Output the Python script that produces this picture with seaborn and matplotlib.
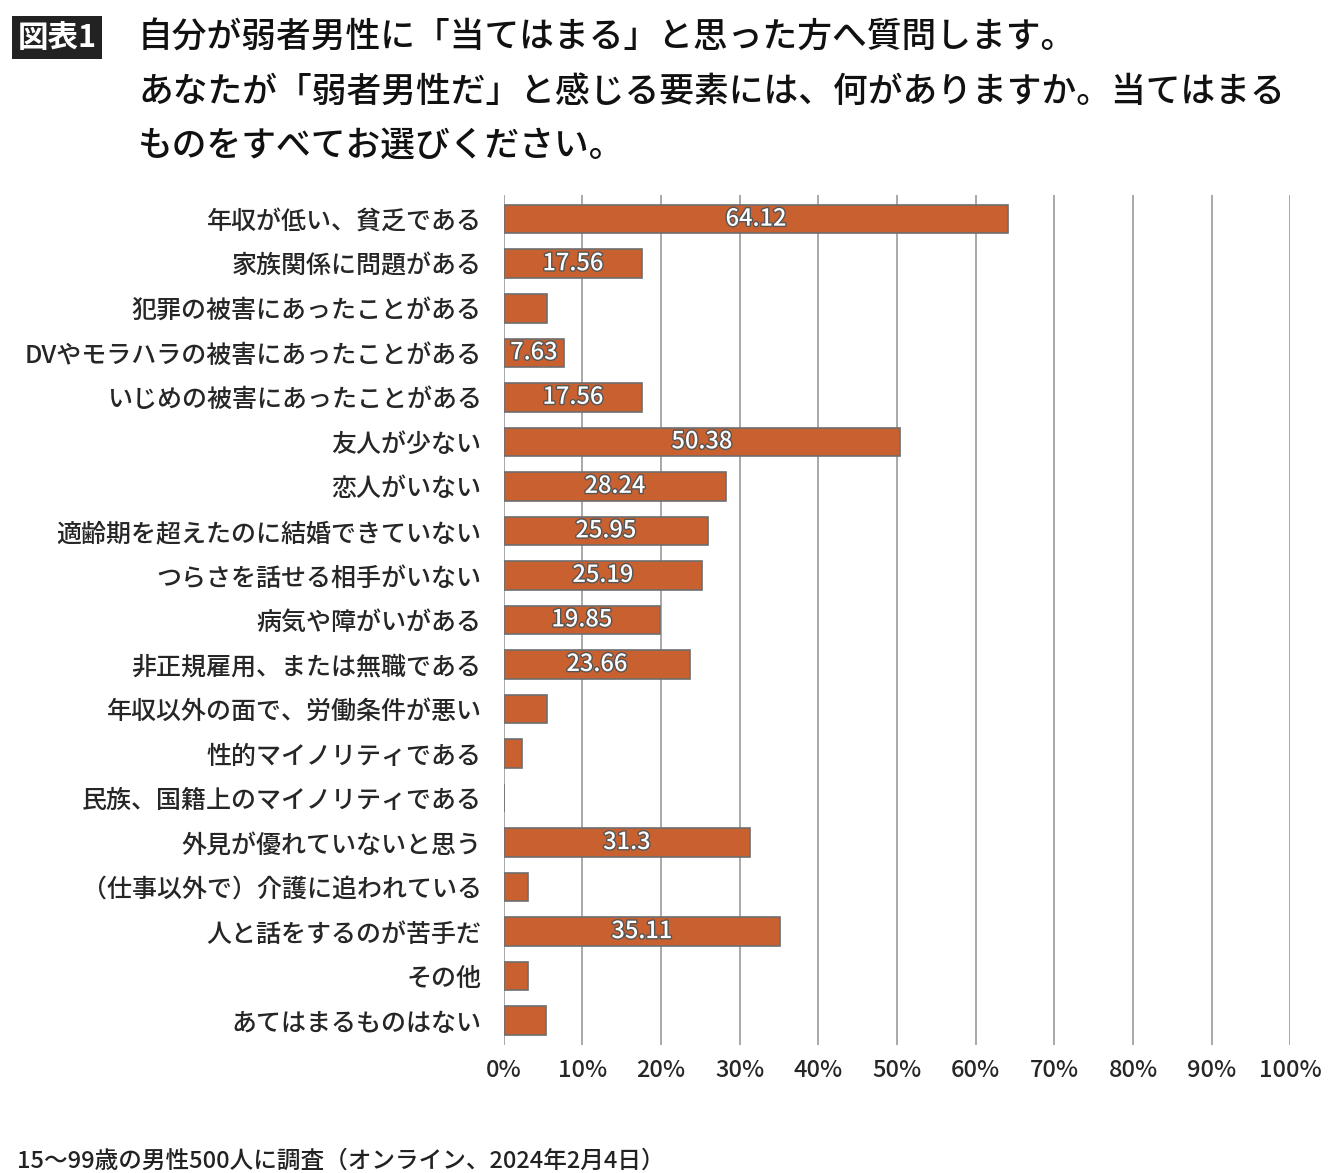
import matplotlib
matplotlib.use("Agg")
import matplotlib.pyplot as plt
import matplotlib.patheffects as pe
import seaborn as sns
import pandas as pd

categories = ["年収が低い、貧乏である", "家族関係に問題がある", "犯罪の被害にあったことがある",
              "DVやモラハラの被害にあったことがある", "いじめの被害にあったことがある", "友人が少ない",
              "恋人がいない", "適齢期を超えたのに結婚できていない", "つらさを話せる相手がいない",
              "病気や障がいがある", "非正規雇用、または無職である", "年収以外の面で、労働条件が悪い",
              "性的マイノリティである", "民族、国籍上のマイノリティである", "外見が優れていないと思う",
              "（仕事以外で）介護に追われている", "人と話をするのが苦手だ", "その他", "あてはまるものはない"]
values = [64.12, 17.56, 5.53, 7.63, 17.56, 50.38, 28.24, 25.95, 25.19, 19.85, 23.66,
          5.53, 2.29, 0.0, 31.3, 3.05, 35.11, 3.05, 5.34]
labels = ["64.12", "17.56", "", "7.63", "17.56", "50.38", "28.24", "25.95", "25.19", "19.85",
          "23.66", "", "", "", "31.3", "", "35.11", "", ""]
ticks = [0, 10, 20, 30, 40, 50, 60, 70, 80, 90, 100]

sns.set_theme(style="white")
plt.rcParams['font.family'] = ['Noto Sans CJK JP', 'DejaVu Sans']

df = pd.DataFrame({"cat": categories, "val": values})
fig = plt.figure(figsize=(13.4, 11.73), dpi=100)
ax = fig.add_axes([0.376, 0.109, 0.587, 0.725])
for t in ticks:
    ax.axvline(t, color="#999999", lw=1.2, zorder=0)
sns.barplot(data=df, x="val", y="cat", ax=ax, color="#C8602F", saturation=1,
            edgecolor="#6e6e6e", linewidth=1.2, width=0.64, zorder=2)
for i, (v, l) in enumerate(zip(values, labels)):
    if l:
        ax.text(v / 2, i, l, ha="center", va="center", color="white", fontsize=17,
                weight="medium", zorder=3,
                path_effects=[pe.withStroke(linewidth=2, foreground="#555555")])
ax.set_xlim(0, 100)
ax.set_ylim(len(categories) - 0.5 + 0.05, -0.5 - 0.05)
ax.set_xticks(ticks)
ax.set_xticklabels([f"{t}%" for t in ticks], fontsize=17, weight="medium")
for lab in ax.get_yticklabels():
    lab.set_fontsize(18)
    lab.set_fontweight("medium")
ax.tick_params(axis="y", pad=16, length=0)
ax.tick_params(axis="x", pad=10, length=0)
ax.set_xlabel("")
ax.set_ylabel("")
for s in ax.spines.values():
    s.set_visible(False)

fig.text(0.013, 0.968, "図表1", fontsize=22, color="white", weight="bold", va="center",
         bbox=dict(facecolor="#222222", edgecolor="none", pad=4))
title = ["自分が弱者男性に「当てはまる」と思った方へ質問します。",
         "あなたが「弱者男性だ」と感じる要素には、何がありますか。当てはまる",
         "ものをすべてお選びください。"]
for k, line in enumerate(title):
    fig.text(0.103, 0.968 - k * 0.046, line, fontsize=25, color="#111111", va="center",
             weight="medium")
fig.text(0.013, 0.0, "15〜99歳の男性500人に調査（オンライン、2024年2月4日）",
         fontsize=17, color="#222222", va="bottom", weight="medium")
fig.savefig("out.png", dpi=100)
